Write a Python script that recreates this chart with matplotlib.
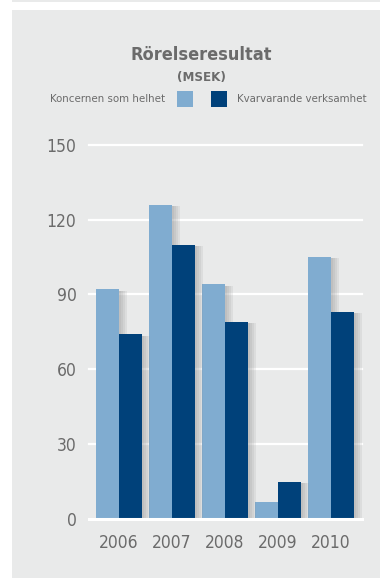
import matplotlib
matplotlib.use("Agg")
import matplotlib.pyplot as plt
import matplotlib.patheffects as pe
from matplotlib.patches import Rectangle
import numpy as np

plt.rcParams['font.family'] = ['DejaVu Sans']
plt.rcParams['font.stretch'] = 'condensed'

years = ['2006', '2007', '2008', '2009', '2010']
koncernen = [92, 126, 94, 7, 105]
kvarvarande = [74, 110, 79, 15, 83]
yticks = [0, 30, 60, 90, 120, 150]

light = '#80acd0'
dark = '#00417a'
panel = '#e9eaea'
textc = '#6b6b6b'

fig = plt.figure(figsize=(3.8, 5.8), dpi=100)
fig.patch.set_facecolor('white')

# grey panel behind everything, on its own background axes
bg = fig.add_axes([0, 0, 1, 1], zorder=-10)
bg.set_xlim(0, 380)
bg.set_ylim(580, 0)
bg.axis('off')
bg.add_patch(Rectangle((12, 10), 368, 568, facecolor=panel, edgecolor='none'))
bg.add_patch(Rectangle((12, 0), 368, 2, facecolor=panel, edgecolor='none'))
# legend swatches
bg.add_patch(Rectangle((177, 91), 16, 16, facecolor=light, edgecolor='none'))
bg.add_patch(Rectangle((211, 91), 16, 16, facecolor=dark, edgecolor='none'))

ax = fig.add_axes([89/380, 61/580, 273/380, 374.3/580])
ax.set_facecolor('none')

x = np.arange(len(years))
w = 0.434
# soft shadow to the right of each bar
shadow = [pe.SimplePatchShadow(offset=(o, -1), shadow_rgbFace='#8a8a8a', alpha=0.13)
          for o in (6, 4.5, 3, 1.5)] + [pe.Normal()]
b1 = ax.bar(x - w/2, koncernen, w, color=light, zorder=3)
b2 = ax.bar(x + w/2, kvarvarande, w, color=dark, zorder=3)
for b in list(b1) + list(b2):
    b.set_path_effects(shadow)

ax.set_xlim(-0.566, 4.585)
ax.set_ylim(0, 150)
for v in yticks[1:]:
    ax.axhline(v, color='white', lw=1.6, zorder=1, clip_on=False)
ax.axhline(0, color='white', lw=2.2, zorder=4, clip_on=False)

ax.set_yticks(yticks)
ax.set_yticklabels([str(v) for v in yticks])
ax.set_xticks(x)
ax.set_xticklabels(years)
ax.tick_params(axis='both', length=0, labelsize=12.5, colors=textc)
ax.tick_params(axis='y', pad=9)
ax.tick_params(axis='x', pad=11)
for s in ax.spines.values():
    s.set_visible(False)

fig.text(201/380, 1 - 55/580, 'Rörelseresultat', ha='center', va='center',
         fontsize=13, fontweight='bold', color=textc)
fig.text(201/380, 1 - 78/580, '(MSEK)', ha='center', va='center',
         fontsize=9.5, fontweight='bold', color=textc)

# legend row
fig.text(165/380, 1 - 99/580, 'Koncernen som helhet', ha='right', va='center',
         fontsize=8.2, color=textc)
fig.text(237/380, 1 - 99/580, 'Kvarvarande verksamhet', ha='left', va='center',
         fontsize=8.2, color=textc)

fig.savefig('out.png', dpi=100)
